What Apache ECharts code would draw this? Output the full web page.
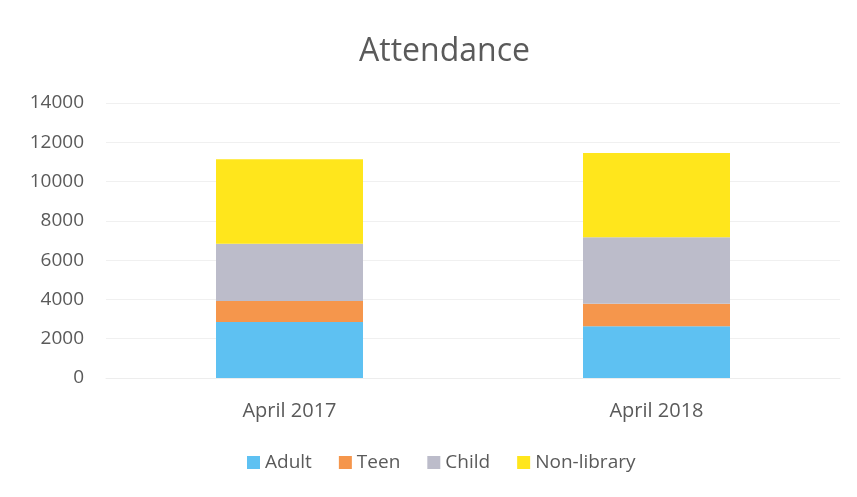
<!DOCTYPE html>
<html><head><meta charset="utf-8">
<script src="https://cdn.jsdelivr.net/npm/echarts@6/dist/echarts.min.js"></script>
<style>html,body{margin:0;padding:0;background:#fff}#c{width:857px;height:497px}</style>
</head><body><div id="c"></div>
<script>
const categories = ['April 2017', 'April 2018'];
const adult = [2850, 2630];
const teen = [1070, 1150];
const child = [2920, 3380];
const nonLibrary = [4300, 4290];
const yTicks = {min: 0, max: 14000, interval: 2000};

const chart = echarts.init(document.getElementById('c'));
const font = "'Open Sans', 'Noto Sans', sans-serif";
function s(name, data, color) {
  return {name, type: 'bar', stack: 'a', data, barWidth: 147, itemStyle: {color}};
}
chart.setOption({
  animation: false,
  backgroundColor: '#fff',
  title: {text: 'Attendance', left: 354, top: 31, textStyle: {fontFamily: font, fontSize: 32, fontWeight: 'normal', color: '#5a5a5a'}},
  legend: {bottom: 20, left: 242, itemWidth: 13, itemHeight: 13, itemGap: 27, icon: 'rect',
    textStyle: {fontFamily: font, fontSize: 19, color: '#5a5a5a'},
    data: ['Adult', 'Teen', 'Child', 'Non-library']},
  grid: {left: 106, right: 17, top: 103, bottom: 119},
  xAxis: {type: 'category', data: categories, axisTick: {show: false},
    axisLine: {lineStyle: {color: '#ededed'}},
    axisLabel: {fontFamily: font, fontSize: 20, color: '#5a5a5a', margin: 23}},
  yAxis: {type: 'value', min: yTicks.min, max: yTicks.max, interval: yTicks.interval,
    axisLine: {show: false}, axisTick: {show: false},
    splitLine: {lineStyle: {color: '#f0f0f0'}},
    axisLabel: {fontFamily: font, fontSize: 19, color: '#5a5a5a', margin: 22, formatter: v => String(v)}},
  series: [
    s('Adult', adult, '#5ec1f2'),
    s('Teen', teen, '#f5964c'),
    s('Child', child, '#bcbcca'),
    s('Non-library', nonLibrary, '#ffe61c')
  ]
});
</script></body></html>
